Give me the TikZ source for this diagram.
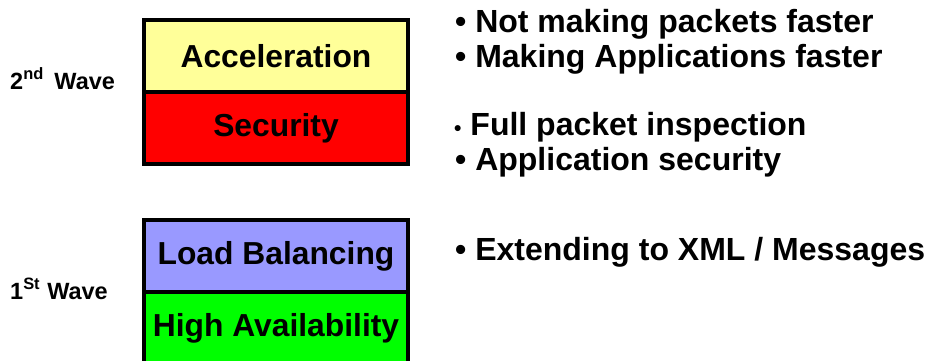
\documentclass[tikz,border=0pt]{standalone}
\usepackage{fontspec}
\setmainfont{Liberation Sans}
\definecolor{accel}{HTML}{FFFF99}
\definecolor{secu}{HTML}{FF0000}
\definecolor{loadb}{HTML}{9999FF}
\definecolor{highav}{HTML}{00FF00}
\tikzset{
  layerbox/.style={draw=black, line width=3.6pt, minimum width=264pt, minimum height=72pt,
    inner sep=0pt, font=\fontsize{31.8}{36}\selectfont\bfseries, text=black},
  wavelabel/.style={anchor=base west, inner sep=0pt, font=\fontsize{23.5}{26}\selectfont\bfseries},
  bulletline/.style={anchor=base west, inner sep=0pt, font=\fontsize{32}{36}\selectfont\bfseries},
}
\begin{document}
\begin{tikzpicture}[x=1pt,y=-1pt]
\clip (0,0) rectangle (929,360);
\fill[white] (0,0) rectangle (929,360);
% 2nd wave stack
\node[layerbox, fill=accel] (acc) at (276,56) {Acceleration};
\node[layerbox, fill=secu] (sec) at (276,128) {Security};
% 1st wave stack
\node[layerbox, fill=loadb] (lb) at (276,256) {Load Balancing};
\node[layerbox, fill=highav] (ha) at (276,328) {High Availability};
% wave labels
\node[wavelabel] (w2) at (10,89) {2\textsuperscript{nd}\hspace{0.45em}Wave};
\node[wavelabel] (w1) at (10,299) {1\textsuperscript{St}\hspace{0.3em}Wave};
% bullet texts
\node[bulletline] (b1) at (455,32) {• Not making packets faster};
\node[bulletline] (b2) at (455,67) {• Making Applications faster};
\node[bulletline] (b3) at (454,135) {{\fontsize{21}{24}\selectfont•} Full packet inspection};
\node[bulletline] (b4) at (455,170) {• Application security};
\node[bulletline] (b5) at (455,260) {• Extending to XML / Messages};
\end{tikzpicture}
\end{document}
